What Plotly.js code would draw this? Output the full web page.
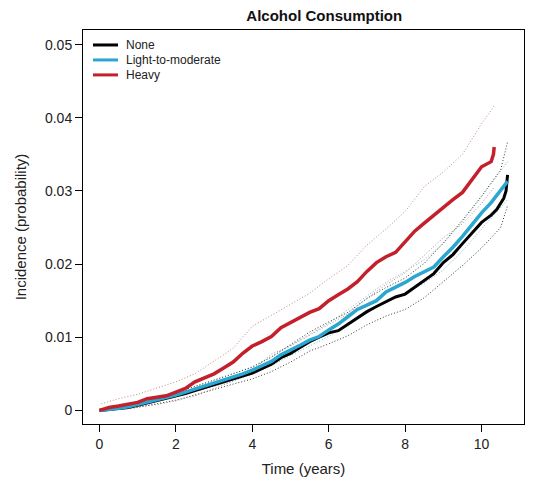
<!DOCTYPE html>
<html>
<head>
<meta charset="utf-8">
<script src="https://cdn.plot.ly/plotly-3.0.1.min.js"></script>
<style>html,body{margin:0;padding:0;background:#fff;}#chart{width:554px;height:491px;}</style>
</head>
<body>
<div id="chart"></div>
<script>
// Estimated cumulative incidence
var heavyT = [0,0.25,0.5,0.75,1.0,1.25,1.5,1.75,2.0,2.25,2.5,2.75,3.0,3.25,3.5,3.75,4.0,4.25,4.5,4.75,5.0,5.25,5.5,5.75,6.0,6.25,6.5,6.75,7.0,7.25,7.5,7.75,8.0,8.25,8.5,8.75,9.0,9.25,9.5,9.75,10.0,10.25,10.31,10.33];
var heavyV = [0,0.0004,0.0006,0.0008,0.0011,0.0016,0.0018,0.0020,0.0025,0.0030,0.0039,0.0045,0.0050,0.0058,0.0066,0.0078,0.0088,0.0094,0.0101,0.0113,0.0120,0.0126,0.0134,0.0139,0.0150,0.0158,0.0166,0.0176,0.0190,0.0202,0.0210,0.0216,0.0230,0.0245,0.0256,0.0267,0.0277,0.0288,0.0298,0.0315,0.0333,0.0340,0.0350,0.0360];

var lightT = [0,0.25,0.5,0.75,1.0,1.25,1.5,1.75,2.0,2.25,2.5,2.75,3.0,3.25,3.5,3.75,4.0,4.25,4.5,4.75,5.0,5.25,5.5,5.75,6.0,6.25,6.5,6.75,7.0,7.25,7.5,7.75,8.0,8.25,8.5,8.75,9.0,9.25,9.5,9.75,10.0,10.25,10.5,10.68];
var lightV = [0,0.0001,0.0003,0.0005,0.0008,0.0011,0.0014,0.0017,0.0021,0.0025,0.0029,0.0033,0.0037,0.0041,0.0045,0.0050,0.0055,0.0061,0.0067,0.0076,0.0082,0.0089,0.0096,0.0101,0.0110,0.0118,0.0128,0.0138,0.0144,0.0150,0.0162,0.0168,0.0175,0.0183,0.0190,0.0196,0.0210,0.0223,0.0238,0.0254,0.0270,0.0284,0.0302,0.0313];

var noneT = [0,0.25,0.5,0.75,1.0,1.25,1.5,1.75,2.0,2.25,2.5,2.75,3.0,3.25,3.5,3.75,4.0,4.25,4.5,4.75,5.0,5.25,5.5,5.75,6.0,6.25,6.5,6.75,7.0,7.25,7.5,7.75,8.0,8.25,8.5,8.75,9.0,9.25,9.5,9.75,10.0,10.25,10.4,10.58,10.64,10.68];
var noneV = [0,0.0001,0.0002,0.0004,0.0007,0.0010,0.0013,0.0016,0.0019,0.0023,0.0027,0.0031,0.0035,0.0039,0.0043,0.0047,0.0051,0.0057,0.0063,0.0072,0.0078,0.0086,0.0094,0.0100,0.0106,0.0109,0.0118,0.0127,0.0135,0.0142,0.0148,0.0155,0.0159,0.0168,0.0177,0.0187,0.0202,0.0213,0.0228,0.0242,0.0257,0.0267,0.0275,0.0290,0.0300,0.0322];

// Confidence bands (dotted)
var heavyCiT = [0.05,0.5,1.0,1.5,2.0,2.5,3.0,3.5,4.0,4.5,5.0,5.5,6.0,6.5,7.0,7.5,8.0,8.5,9.0,9.5,10.0,10.33];
var heavyUp  = [0.0009,0.0016,0.0022,0.0030,0.0039,0.0050,0.0067,0.0085,0.0115,0.0130,0.0146,0.0160,0.0180,0.0198,0.0226,0.0248,0.0272,0.0306,0.0326,0.0350,0.0392,0.0416];
var heavyLo  = [0,0.0002,0.0005,0.0008,0.0013,0.0020,0.0030,0.0040,0.0055,0.0077,0.0088,0.0103,0.0118,0.0132,0.0153,0.0172,0.0188,0.0212,0.0236,0.0255,0.0283,0.0305];

var lightCiT = [0.5,1.0,1.5,2.0,2.5,3.0,3.5,4.0,4.5,5.0,5.5,6.0,6.5,7.0,7.5,8.0,8.5,9.0,9.5,10.0,10.5,10.68];
var lightUp  = [0.0004,0.0010,0.0016,0.0024,0.0032,0.0041,0.0050,0.0060,0.0073,0.0089,0.0104,0.0119,0.0138,0.0156,0.0175,0.0190,0.0206,0.0228,0.0258,0.0292,0.0327,0.0340];
var lightLo  = [0.0002,0.0006,0.0012,0.0018,0.0026,0.0033,0.0040,0.0050,0.0061,0.0075,0.0088,0.0101,0.0118,0.0133,0.0149,0.0160,0.0174,0.0192,0.0218,0.0248,0.0278,0.0288];

var noneCiT = [0.5,1.0,1.5,2.0,2.5,3.0,3.5,4.0,4.5,5.0,5.5,6.0,6.5,7.0,7.5,8.0,8.5,9.0,9.5,10.0,10.5,10.68];
var noneUp  = [0.0004,0.0010,0.0017,0.0024,0.0033,0.0041,0.0050,0.0059,0.0073,0.0090,0.0107,0.0121,0.0134,0.0153,0.0168,0.0181,0.0201,0.0229,0.0260,0.0293,0.0329,0.0367];
var noneLo  = [0.0001,0.0004,0.0009,0.0014,0.0021,0.0029,0.0036,0.0043,0.0053,0.0066,0.0081,0.0091,0.0102,0.0117,0.0129,0.0138,0.0154,0.0176,0.0198,0.0222,0.0250,0.0280];

var seriesNames = ['None', 'Light-to-moderate', 'Heavy'];
var xTicks = [0,2,4,6,8,10];
var yTicks = [0,0.01,0.02,0.03,0.04,0.05];
var yTickText = ['0','0.01','0.02','0.03','0.04','0.05'];

var cRed = '#c4202b', cBlue = '#2aa6d1', cBlack = '#000000';
var ciRed = '#c08a8a', ciBlue = '#6fb9c9', ciBlack = '#3a3a3a';
var seriesColors = [cBlack, cBlue, cRed];

function ci(x, y, col) {
  return {x: x, y: y, mode: 'lines', showlegend: false, hoverinfo: 'skip',
          line: {color: col, width: 1, dash: '1px,2px'}};
}

var traces = [
  ci(heavyCiT, heavyUp, ciRed), ci(heavyCiT, heavyLo, ciRed),
  ci(lightCiT, lightUp, ciBlue), ci(lightCiT, lightLo, ciBlue),
  ci(noneCiT, noneUp, ciBlack), ci(noneCiT, noneLo, ciBlack),
  {x: noneT, y: noneV, name: seriesNames[0], mode: 'lines', showlegend: false, line: {color: cBlack, width: 3}},
  {x: lightT, y: lightV, name: seriesNames[1], mode: 'lines', showlegend: false, line: {color: cBlue, width: 3.5}},
  {x: heavyT, y: heavyV, name: seriesNames[2], mode: 'lines', showlegend: false, line: {color: cRed, width: 3.5}}
];

// Compact legend (keys + labels) placed in paper coordinates
var legX0 = 0.0227, legX1 = 0.0794, legTextX = 0.093, legY0 = 0.962, legDy = 0.038;
var shapes = [], annotations = [];
seriesNames.forEach(function (n, i) {
  var yy = legY0 - i * legDy;
  shapes.push({type: 'line', xref: 'paper', yref: 'paper', x0: legX0, x1: legX1, y0: yy, y1: yy,
               line: {color: seriesColors[i], width: 3}});
  annotations.push({xref: 'paper', yref: 'paper', x: legTextX, y: yy, xanchor: 'left', yanchor: 'middle',
                    text: n, showarrow: false, font: {size: 12, color: '#222'}});
});

var font = 'Arial, "Liberation Sans", sans-serif';
var layout = {
  width: 554, height: 491,
  margin: {l: 83, r: 30, t: 30, b: 67},
  paper_bgcolor: '#fff', plot_bgcolor: '#fff',
  font: {family: font, color: '#222', size: 14},
  title: {text: '<b>Alcohol Consumption</b>', font: {family: font, size: 15, color: '#111'},
          x: 0.547, xanchor: 'center', xref: 'paper', y: 1 - 16/491, yanchor: 'middle', yref: 'container'},
  xaxis: {
    range: [-0.43, 11.11], tickvals: xTicks, ticktext: xTicks.map(String),
    showgrid: false, zeroline: false, showline: true, mirror: true, linecolor: '#000', linewidth: 1,
    ticks: 'outside', ticklen: 7, tickcolor: '#000', tickfont: {size: 14, color: '#222'},
    title: {text: 'Time (years)', font: {size: 15, color: '#222'}, standoff: 12}
  },
  yaxis: {
    range: [-0.00186, 0.0520], tickvals: yTicks, ticktext: yTickText,
    showgrid: false, zeroline: false, showline: true, mirror: true, linecolor: '#000', linewidth: 1,
    ticks: 'outside', ticklen: 7, tickcolor: '#000', tickfont: {size: 14, color: '#222'},
    title: {text: 'Incidence (probability)', font: {size: 15, color: '#222'}, standoff: 14}
  },
  showlegend: false,
  shapes: shapes,
  annotations: annotations
};

Plotly.newPlot('chart', traces, layout, {displayModeBar: false, staticPlot: true});
</script>
</body>
</html>
